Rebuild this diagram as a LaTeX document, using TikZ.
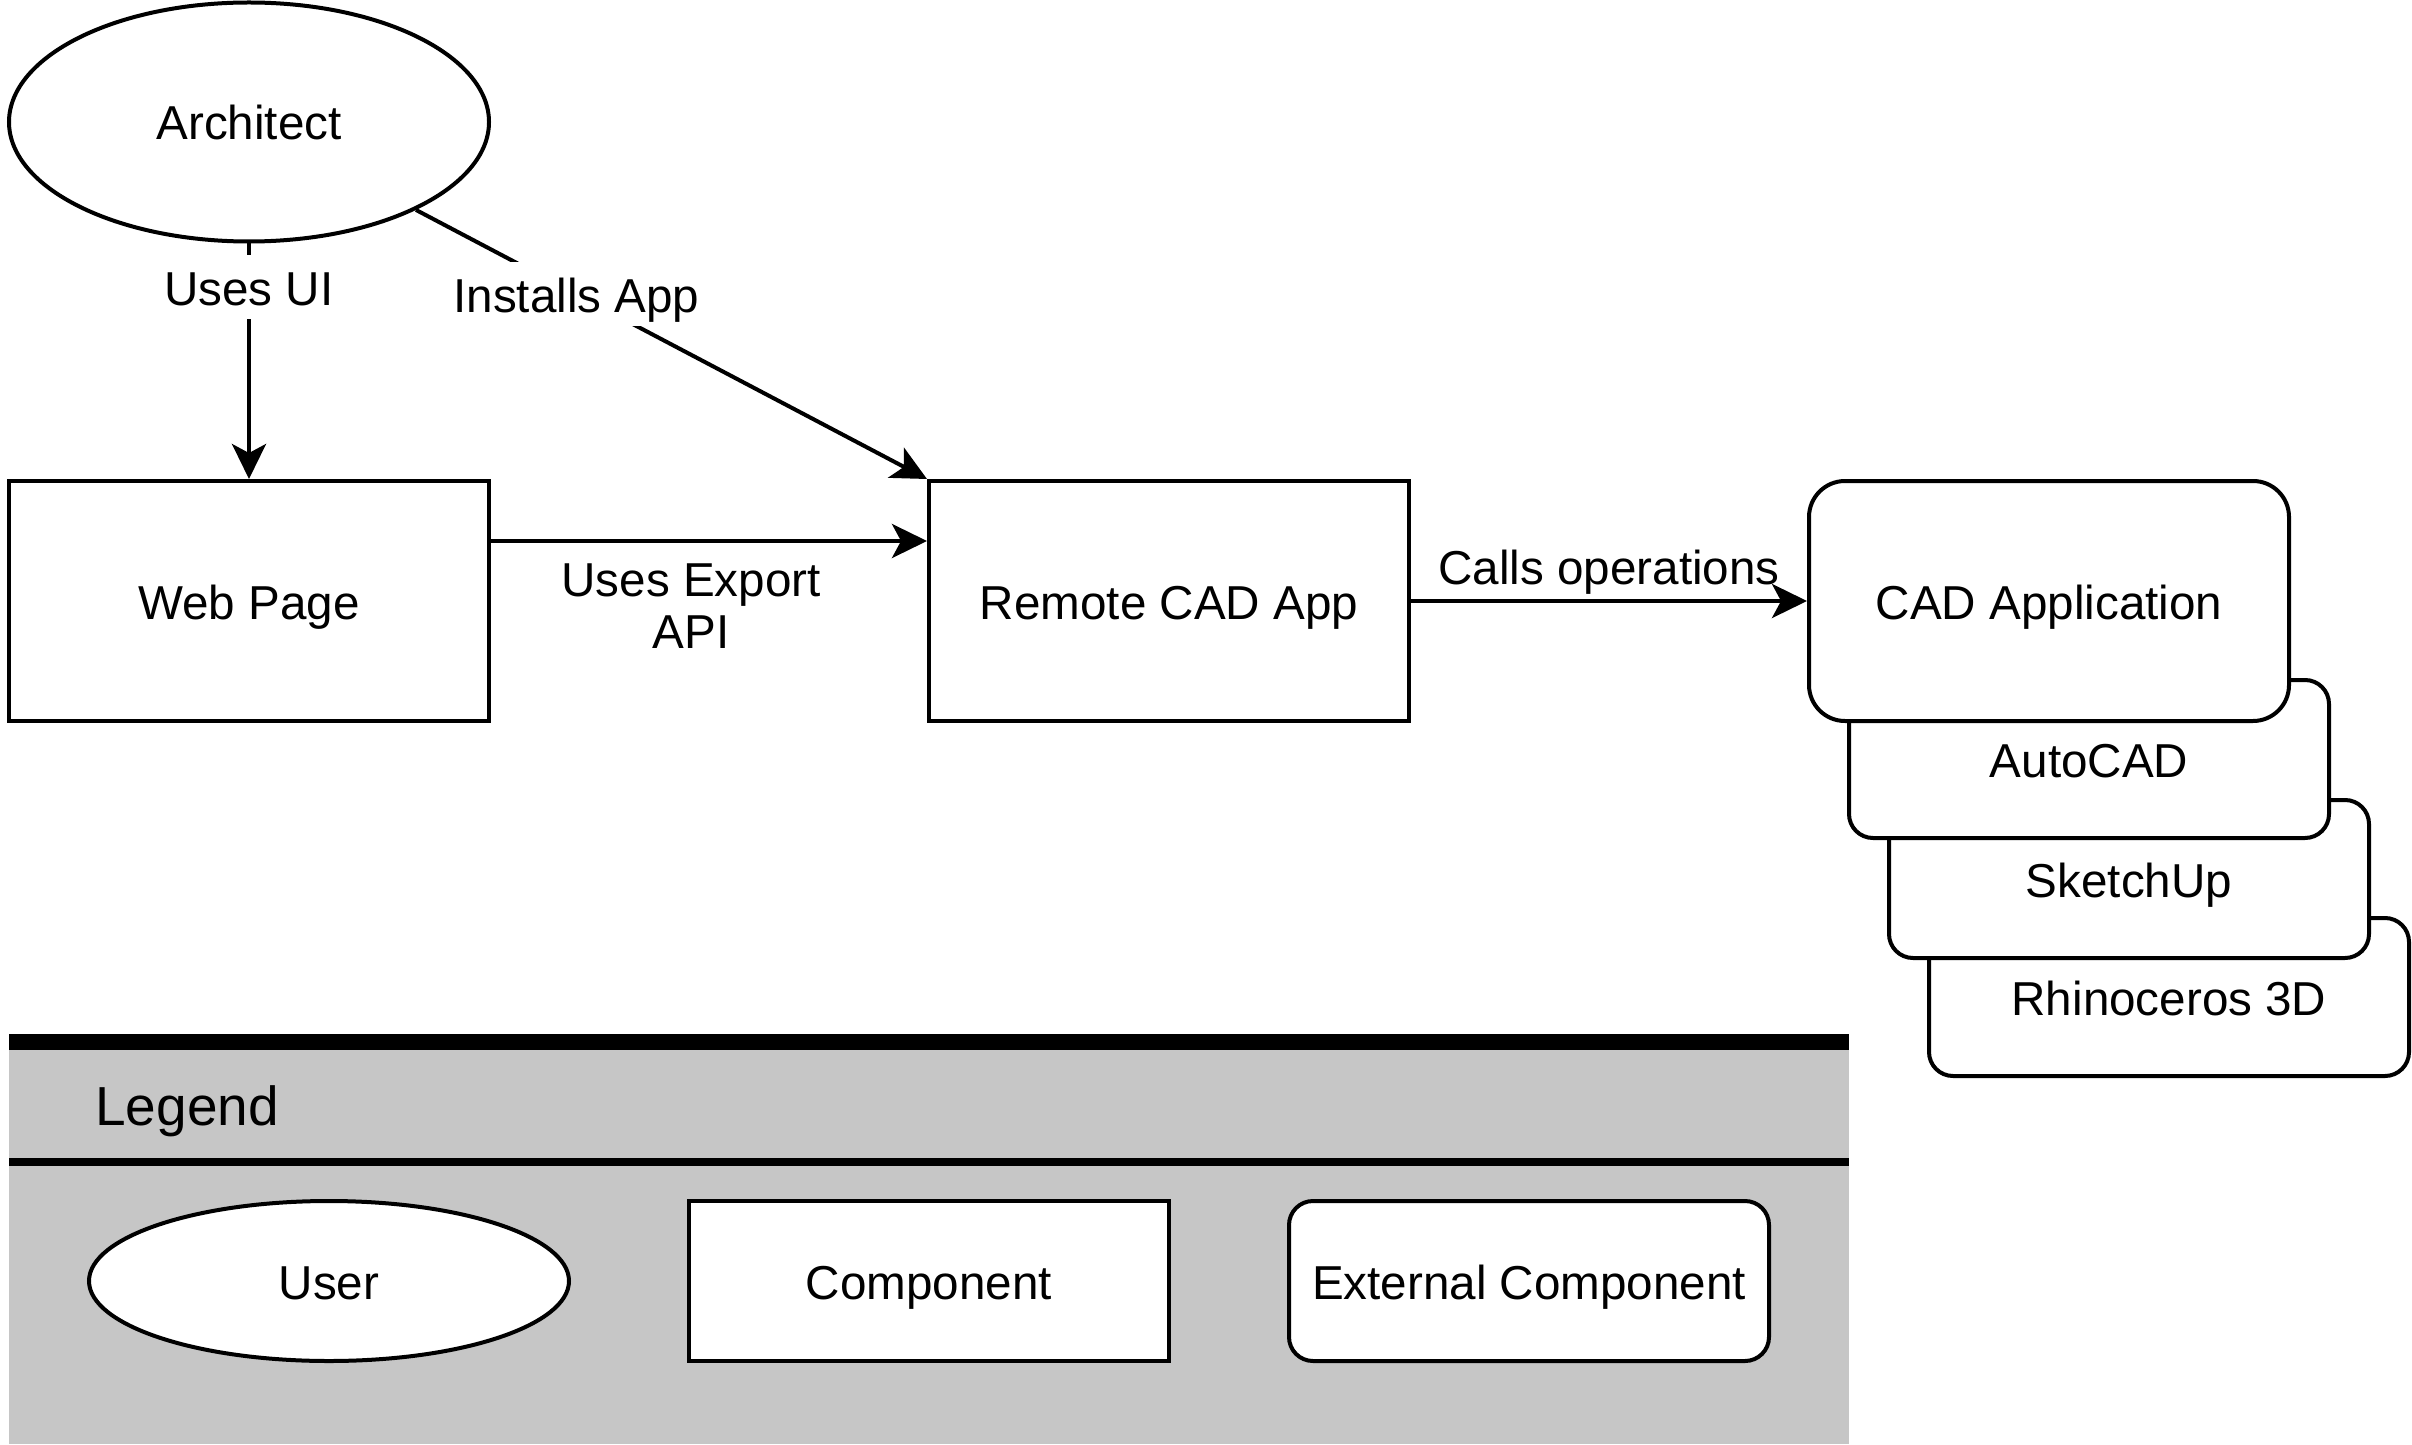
\documentclass[tikz,border=0pt]{standalone}
\usepackage{fontspec}
\setmainfont{Liberation Sans}
\usetikzlibrary{shapes.geometric,arrows.meta}
\definecolor{legendgray}{RGB}{198,198,198}
\newcommand{\mainfs}{\fontsize{23.8pt}{26pt}\selectfont}
\newcommand{\legfs}{\fontsize{27.5pt}{30pt}\selectfont}
\begin{document}
\begin{tikzpicture}[x=0.5pt,y=-0.5pt,
  base/.style={draw, line width=2pt, fill=white, inner sep=0pt, font=\mainfs, align=center, text height=23pt, text depth=5pt},
  comp/.style={base, rectangle, minimum width=240pt, minimum height=120pt},
  extcomp/.style={comp, rounded corners=18pt},
  stackbox/.style={base, rectangle, minimum width=240pt, minimum height=79pt, rounded corners=12pt},
  userbox/.style={base, ellipse, minimum width=240pt, minimum height=119.5pt},
  arr/.style={line width=2pt, -{Stealth[length=17.5pt,width=17pt,inset=4.5pt]}},
  lbl/.style={fill=white, inner sep=2pt, font=\mainfs, text height=23pt, text depth=5pt},
  mlbl/.style={inner sep=2pt, font=\mainfs, align=center}]
\useasboundingbox (0,0) rectangle (2412,1444);

% main nodes
\node[userbox] (arch) at (249,122) {Architect};
\node[comp] (web) at (249,601) {Web Page};
\node[comp] (remote) at (1169,601) {Remote CAD App};

% stacked external components
\node[stackbox] (rhino) at (2169,997) {Rhinoceros 3D};
\node[stackbox] (sketchup) at (2129,879) {SketchUp};
\node[stackbox] (autocad) at (2089,759) {AutoCAD};
\node[extcomp] (cadapp) at (2049,601) {CAD Application};

% connectors
\draw[arr] (arch) -- node[lbl,pos=0.185]{Uses UI} (web);
\draw[arr] (arch) -- node[lbl,pos=0.314]{Installs App} (remote.north west);
\draw[arr] ([yshift=30pt]web.east) -- node[mlbl,xshift=-9pt,yshift=-32.5pt]{Uses Export\\API} ([yshift=30pt]remote.west);
\draw[arr] (remote) -- node[lbl,fill=none,yshift=17.2pt]{Calls operations} (cadapp);

% legend
\fill[legendgray] (9,1042) rectangle (1849,1444);
\fill[black] (9,1034) rectangle (1849,1050);
\fill[black] (9,1158) rectangle (1849,1166);
\node[anchor=west, inner sep=0pt, font=\legfs, text height=25pt, text depth=5pt] (legend) at (95,1105) {Legend};
\node[base, ellipse, minimum width=240pt, minimum height=80pt] (user) at (329,1281) {User};
\node[base, rectangle, minimum width=240pt, minimum height=80pt] (component) at (929,1281) {Component};
\node[base, rectangle, minimum width=240pt, minimum height=80pt, rounded corners=12pt] (external) at (1529,1281) {External Component};
\end{tikzpicture}
\end{document}
